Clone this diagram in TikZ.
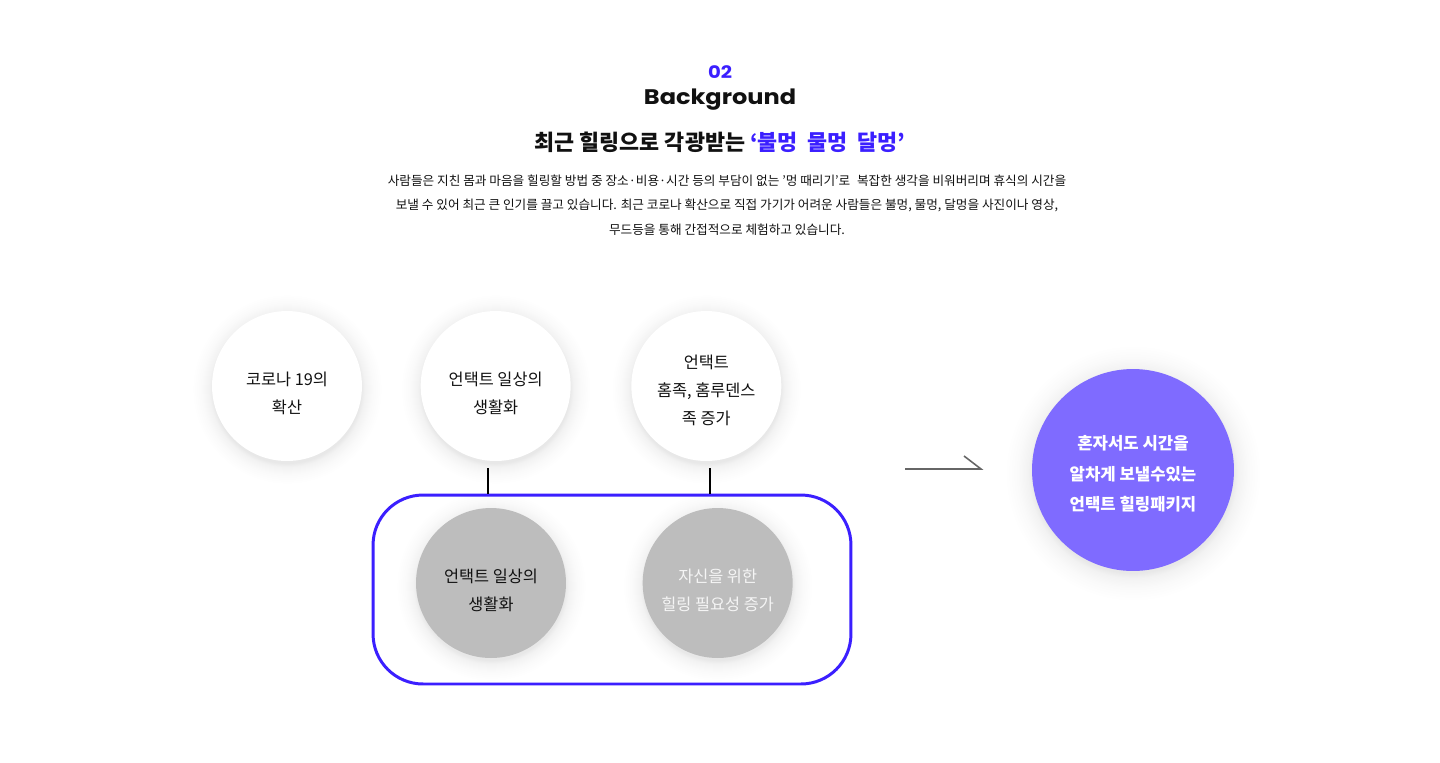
\documentclass[tikz,border=0pt]{standalone}
\usepackage{fontspec}
\setmainfont{Noto Sans CJK KR}
\newfontfamily\headfont{Poppins}[FakeStretch=1.14]
\usepackage{tikz}
\usetikzlibrary{positioning,calc,backgrounds}
\definecolor{accent}{HTML}{3B1FFF}
\definecolor{pkgviolet}{HTML}{7F6BFF}
\definecolor{softgray}{HTML}{BDBDBD}
\definecolor{ink}{HTML}{111111}
\pgfdeclareradialshading{halo}{\pgfpoint{0bp}{0bp}}{%
  color(0bp)=(black!9); color(19.5bp)=(black!9); color(20.5bp)=(black!5);
  color(22.5bp)=(black!2); color(25bp)=(white); color(50bp)=(white)}
\pgfdeclarelayer{halos}
\pgfsetlayers{background,halos,main}

\begin{document}
\begin{tikzpicture}[x=0.02cm,y=-0.02cm,text=ink,
   hcirc/.style={circle,fill=white,minimum size=3cm,inner sep=0pt,align=center,
                 text height=31.5pt,font=\fontsize{9.3pt}{15.9pt}\selectfont},
   gcirc/.style={hcirc,fill=softgray},
   link/.style={line width=1.1pt,black}]
  \begin{pgfonlayer}{background}
    \fill[white] (0,0) rectangle (1440,762);
  \end{pgfonlayer}
  \useasboundingbox (0,0) rectangle (1440,762);
  % heading
  \node[text=accent,font=\headfont\bfseries\fontsize{9.8pt}{11pt}\selectfont] (num) at (720,72) {02};
  \node[font=\headfont\bfseries\fontsize{12pt}{14pt}\selectfont] (bg) at (720,100) {Background};
  \node[font=\bfseries\fontsize{12.4pt}{14pt}\selectfont] (title) at (720,142)
       {최근 힐링으로 각광받는 \textcolor{accent}{‘불멍\hspace{0.45em}물멍\hspace{0.45em}달멍’}};
  \node[align=center,font=\fontsize{7.2pt}{13.9pt}\selectfont] (intro) at (727,205)
       {사람들은 지친 몸과 마음을 힐링할 방법 중 장소·비용·시간 등의 부담이 없는 '멍 때리기'로\hspace{0.3em} 복잡한 생각을 비워버리며 휴식의 시간을\\
        보낼 수 있어 최근 큰 인기를 끌고 있습니다. 최근 코로나 확산으로 직접 가기가 어려운 사람들은 불멍, 물멍, 달멍을 사진이나 영상,\\
        무드등을 통해 간접적으로 체험하고 있습니다.};
  % causes
  \node[hcirc] (c1) at (287,386) {코로나 19의\\확산};
  \node[hcirc,right=1.16cm of c1] (c2) {언택트 일상의\\생활화};
  \node[hcirc,right=1.2cm of c2,text height=44.5pt] (c3) {언택트\\홈족, 홈루덴스\\족 증가};
  % needs
  \node[draw=accent,line width=1.7pt,rounded corners=1cm,
        minimum width=9.56cm,minimum height=3.78cm] (box) at (612,589.5) {};
  \coordinate (t1) at (488,468);
  \coordinate (t2) at (710,468);
  \draw[link] (t1) -- (t1 |- box.north);
  \draw[link] (t2) -- (t2 |- box.north);
  \node[gcirc] (g1) at (491,583) {언택트 일상의\\생활화};
  \node[gcirc,right=1.52cm of g1,text=white!96!black] (g2) {자신을 위한\\힐링 필요성 증가};
  % result
  \node[hcirc,fill=pkgviolet,minimum size=4.04cm,text=white,text height=47.2pt,
        font=\bfseries\fontsize{9.5pt}{17.3pt}\selectfont] (pkg) at (1133,470)
       {혼자서도 시간을\\알차게 보낼수있는\\언택트 힐링패키지};
  \coordinate (a0) at (905,469);
  \coordinate (a1) at (981,469);
  \draw[line width=0.9pt,black!60] (a0) -- (a1) -- ++(-17,-13);
  % soft shadows
  \begin{pgfonlayer}{halos}
    \foreach \n in {c1,c2,c3,g1,g2}
      \shade[shading=halo] ($(\n)+(0,3)$) circle (95);
    \shade[shading=halo] ($(pkg)+(0,3)$) circle (128);
  \end{pgfonlayer}
\end{tikzpicture}
\end{document}
